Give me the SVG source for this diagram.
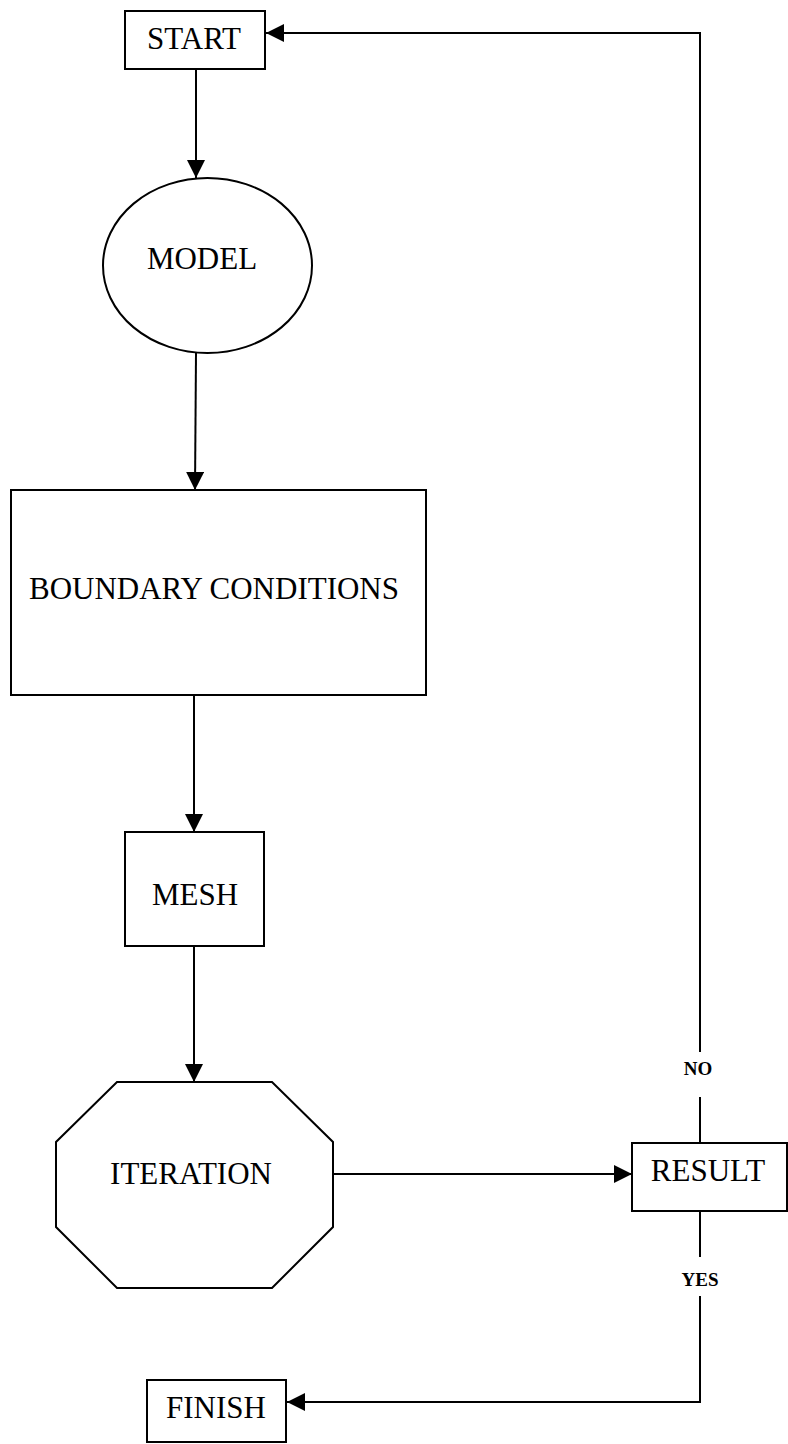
<svg xmlns="http://www.w3.org/2000/svg" width="788" height="1444" viewBox="0 0 788 1444">
<style>
.shape{fill:#fff;stroke:#000;stroke-width:2}
.lbl{font-family:"Liberation Serif","Times New Roman",serif;font-size:31px;fill:#000;text-anchor:middle}
.small{font-family:"Liberation Serif","Times New Roman",serif;font-size:19px;font-weight:bold;fill:#000;text-anchor:middle}
.conn{fill:none;stroke:#000;stroke-width:2}
</style>
<defs>
<marker id="arr" markerUnits="userSpaceOnUse" markerWidth="18" markerHeight="18" viewBox="0 0 16 16" refX="16" refY="8" orient="auto">
<path d="M0,0 L16,8 L0,16 Z" fill="#000"/>
</marker>
</defs>
<rect width="788" height="1444" fill="#fff"/>
<g id="connectors">
<line class="conn" x1="196" y1="69" x2="196" y2="178" marker-end="url(#arr)"/>
<line class="conn" x1="196" y1="353" x2="195" y2="490" marker-end="url(#arr)"/>
<line class="conn" x1="194" y1="695" x2="194" y2="832" marker-end="url(#arr)"/>
<line class="conn" x1="194" y1="946" x2="194" y2="1082" marker-end="url(#arr)"/>
<line class="conn" x1="333" y1="1174" x2="632" y2="1174" marker-end="url(#arr)"/>
<path class="conn" d="M700,1143 V1097 M700,1052 V33 H266" marker-end="url(#arr)"/>
<path class="conn" d="M700,1211 V1257 M700,1296 V1402 H287" marker-end="url(#arr)"/>
<text class="small" x="698" y="1075">NO</text>
<text class="small" x="700" y="1286">YES</text>
</g>
<g id="start">
<rect class="shape" x="125" y="11" width="140" height="58"/>
<text class="lbl" x="194" y="49">START</text>
</g>
<g id="model">
<ellipse class="shape" cx="207.5" cy="265.5" rx="104.5" ry="87.5"/>
<text class="lbl" x="202" y="269">MODEL</text>
</g>
<g id="boundary">
<rect class="shape" x="11" y="490" width="415" height="205"/>
<text class="lbl" x="214" y="599">BOUNDARY CONDITIONS</text>
</g>
<g id="mesh">
<rect class="shape" x="125" y="832" width="139" height="114"/>
<text class="lbl" x="195" y="905">MESH</text>
</g>
<g id="iteration">
<polygon class="shape" points="117,1082 272,1082 333,1142 333,1227 272,1288 117,1288 56,1227 56,1142"/>
<text class="lbl" x="191" y="1184">ITERATION</text>
</g>
<g id="result">
<rect class="shape" x="632" y="1143" width="155" height="68"/>
<text class="lbl" x="708" y="1181">RESULT</text>
</g>
<g id="finish">
<rect class="shape" x="147" y="1380" width="139" height="62"/>
<text class="lbl" x="216" y="1418">FINISH</text>
</g>
</svg>
